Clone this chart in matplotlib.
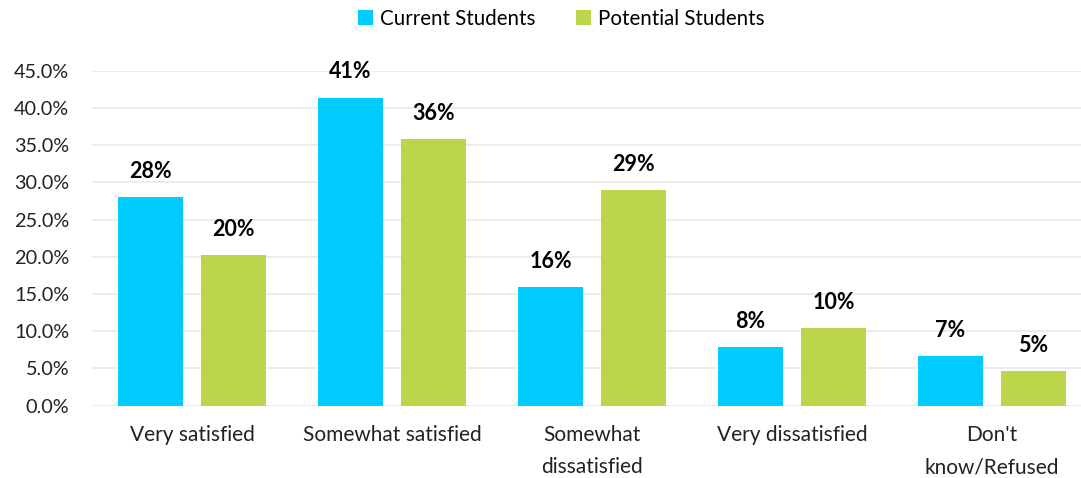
import matplotlib
matplotlib.use("Agg")
import matplotlib.pyplot as plt
import numpy as np
from matplotlib.patches import Patch

categories = ["Very satisfied", "Somewhat satisfied", "Somewhat\ndissatisfied",
              "Very dissatisfied", "Don't\nknow/Refused"]
current_students = [28.1, 41.4, 15.9, 7.9, 6.7]
potential_students = [20.3, 35.8, 29.0, 10.4, 4.7]
series_names = ["Current Students", "Potential Students"]
yticks = [0, 5, 10, 15, 20, 25, 30, 35, 40, 45]

cyan = "#00CCFF"
green = "#BBD64A"
font = "Lato"

fig = plt.figure(figsize=(10.81, 4.78), dpi=100)
ax = fig.add_axes([92 / 1081, 1 - 405.7 / 478, 1 - 92 / 1081, (405.7 - 70.7) / 478])

x = np.arange(len(categories))
width = 0.325
offset = 0.2075
b1 = ax.bar(x - offset, current_students, width, color=cyan, zorder=2)
b2 = ax.bar(x + offset, potential_students, width, color=green, zorder=2)

for bars, vals in ((b1, current_students), (b2, potential_students)):
    for rect, v in zip(bars, vals):
        ax.annotate(f"{v:.0f}%", (rect.get_x() + rect.get_width() / 2, v),
                    xytext=(0, 15), textcoords="offset pixels",
                    ha="center", va="bottom", fontsize=15.5, fontweight="bold",
                    family=font, color="#000000")

ax.set_ylim(0, 45)
ax.set_xlim(-0.5, -0.5 + (1081 - 92) / 200)
ax.set_yticks(yticks)
ax.set_yticklabels([f"{t:.1f}%" for t in yticks], family=font, fontsize=14.3, color="#222222")
ax.set_xticks(x)
ax.set_xticklabels(categories, family=font, fontsize=15, color="#222222", linespacing=1.75)
ax.tick_params(axis="both", length=0)
ax.tick_params(axis="y", pad=16.5)
ax.tick_params(axis="x", pad=14)
for s in ax.spines.values():
    s.set_visible(False)
ax.yaxis.grid(True, color="#EBEBEB", linewidth=1.3, zorder=0)
ax.set_axisbelow(True)

handles = [Patch(facecolor=cyan, edgecolor="none"), Patch(facecolor=green, edgecolor="none")]
fig.legend(handles, series_names, loc="center", bbox_to_anchor=(561 / 1081, 1 - 19 / 478),
           ncol=2, frameon=False, prop={"family": font, "size": 14.8},
           handlelength=0.75, handleheight=0.75, handletextpad=0.3, columnspacing=2.0)

fig.savefig("out.png", dpi=100, facecolor="white")
